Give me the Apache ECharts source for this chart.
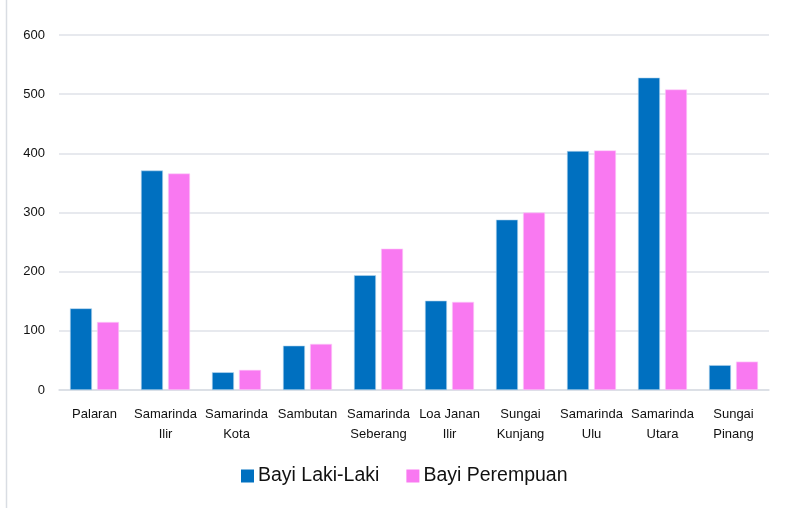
<!DOCTYPE html>
<html><head><meta charset="utf-8">
<script src="https://cdn.jsdelivr.net/npm/echarts@6/dist/echarts.min.js"></script>
<style>html,body{margin:0;padding:0;background:#fff}#c{width:790px;height:508px}</style>
</head><body><div id="c"></div>
<script>
const categories = ['Palaran','Samarinda\nIlir','Samarinda\nKota','Sambutan','Samarinda\nSeberang','Loa Janan\nIlir','Sungai\nKunjang','Samarinda\nUlu','Samarinda\nUtara','Sungai\nPinang'];
const bayiLakiLaki = [138, 371, 30, 75, 194, 151, 288, 404, 528, 42];
const bayiPerempuan = [115, 366, 34, 78, 239, 149, 300, 405, 508, 48];
const seriesNames = ['Bayi Laki-Laki', 'Bayi Perempuan'];
const yTicks = {min: 0, max: 600, interval: 100};

const font = '"Liberation Sans Narrow", "Arial Narrow", "Liberation Sans", Arial, sans-serif';
const chart = echarts.init(document.getElementById('c'));
chart.setOption({
  animation: false,
  color: ['#0070c0', '#f979f1'],
  grid: {left: 59, right: 21, top: 35, bottom: 118, containLabel: false},
  graphic: [{type: 'line', shape: {x1: 6.5, y1: 0, x2: 6.5, y2: 508}, style: {stroke: '#d9dde3', lineWidth: 1.5}}],
  legend: {
    bottom: 17, left: 236, itemWidth: 13, itemHeight: 13, itemGap: 27,
    icon: 'rect',
    itemStyle: {borderWidth: 0},
    textStyle: {fontFamily: font, fontSize: 19.5, color: '#111', padding: [0,0,0,-1]},
    data: seriesNames
  },
  xAxis: {
    type: 'category', data: categories,
    axisLine: {lineStyle: {color: '#d9dde3', width: 1.5}},
    axisTick: {show: false},
    axisLabel: {interval: 0, fontFamily: font, fontSize: 13, color: '#111', margin: 14, lineHeight: 20}
  },
  yAxis: {
    type: 'value', min: yTicks.min, max: yTicks.max, interval: yTicks.interval,
    axisLine: {show: false}, axisTick: {show: false},
    splitLine: {lineStyle: {color: '#dfe2e8', width: 1.5}},
    axisLabel: {fontFamily: font, fontSize: 13, color: '#111', margin: 14}
  },
  series: [
    {name: seriesNames[0], type: 'bar', data: bayiLakiLaki, barWidth: 22, barGap: '23%',
     itemStyle: {borderColor: '#b8d6ef', borderWidth: 0.6}},
    {name: seriesNames[1], type: 'bar', data: bayiPerempuan, barWidth: 22,
     itemStyle: {borderColor: '#fcd0f8', borderWidth: 0.6}}
  ]
});
</script></body></html>
